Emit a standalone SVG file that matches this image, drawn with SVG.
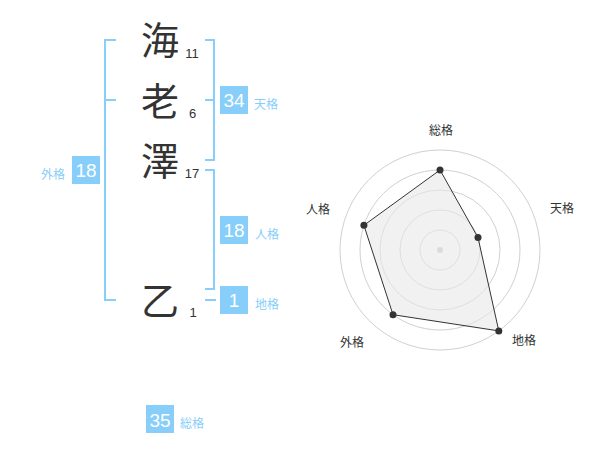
<svg xmlns="http://www.w3.org/2000/svg" width="600" height="470" viewBox="0 0 600 470">
<style>
.ch{font-family:"Noto Sans CJK JP","Noto Sans CJK SC",sans-serif;font-size:38px;fill:#333;text-anchor:middle}
.st{font-family:"Liberation Sans",Arial,sans-serif;font-size:13px;fill:#333;text-anchor:middle}
.box{fill:#87cefa}
.bn{font-family:"Liberation Sans",Arial,sans-serif;font-size:19px;fill:#fff;text-anchor:middle}
.lb{font-family:"Noto Sans CJK JP","Noto Sans CJK SC",sans-serif;font-size:12px;fill:#87cefa}
.br{fill:none;stroke:#87cefa;stroke-width:2}
.ring{fill:none;stroke:#d0d0d0;stroke-width:1}
.rl{font-family:"Noto Sans CJK JP","Noto Sans CJK SC",sans-serif;font-size:12px;fill:#333;text-anchor:middle}
.pt{fill:#333}
</style>
<rect width="600" height="470" fill="#fff"/>
<g id="connectors">
<path class="br" d="M116,40 H105 V300 H116 M105,100 H116"/>
<path class="br" d="M205,40 H214 V160 H205 M205,100 H214"/>
<path class="br" d="M205,170 H214 V289 H205"/>
<path class="br" d="M205,300 H216"/>
</g>
<g id="char1"><text class="ch" x="160" y="53.5">海</text><text class="st" x="192" y="57.7">11</text></g>
<g id="char2"><text class="ch" x="160" y="114.5">老</text><text class="st" x="192.5" y="117.7">6</text></g>
<g id="char3"><text class="ch" x="160" y="175">澤</text><text class="st" x="192" y="177.7">17</text></g>
<g id="char4"><text class="ch" x="160" y="314.5">乙</text><text class="st" x="193" y="316.7">1</text></g>
<g id="tenkaku"><rect class="box" x="220" y="86" width="28" height="28"/><text class="bn" x="234" y="107">34</text><text class="lb" x="254" y="108.5">天格</text></g>
<g id="jinkaku"><rect class="box" x="220" y="216" width="28" height="28"/><text class="bn" x="234" y="237">18</text><text class="lb" x="255" y="238.5">人格</text></g>
<g id="chikaku"><rect class="box" x="220" y="286" width="28" height="28"/><text class="bn" x="234" y="307">1</text><text class="lb" x="255" y="308.5">地格</text></g>
<g id="gaikaku"><rect class="box" x="72" y="156" width="28" height="28"/><text class="bn" x="86" y="177">18</text><text class="lb" x="41" y="179">外格</text></g>
<g id="soukaku"><rect class="box" x="146" y="405" width="28" height="28"/><text class="bn" x="160" y="426.5">35</text><text class="lb" x="180" y="427.5">総格</text></g>
<g id="radar">
<circle class="ring" cx="440" cy="250" r="20"/>
<circle class="ring" cx="440" cy="250" r="40"/>
<circle class="ring" cx="440" cy="250" r="60"/>
<circle class="ring" cx="440" cy="250" r="80"/>
<circle class="ring" cx="440" cy="250" r="100"/>
<circle cx="440" cy="250" r="3" fill="#c8c8c8"/>
<polygon points="440,170 478,237.6 498.8,330.9 393,314.7 363.9,225.3" fill="#e8e8e8" fill-opacity="0.6" stroke="#333" stroke-width="1"/>
<circle class="pt" cx="440" cy="170" r="3.5"/>
<circle class="pt" cx="478" cy="237.6" r="3.5"/>
<circle class="pt" cx="498.8" cy="330.9" r="3.5"/>
<circle class="pt" cx="393" cy="314.7" r="3.5"/>
<circle class="pt" cx="363.9" cy="225.3" r="3.5"/>
<text class="rl" x="441" y="134.5">総格</text>
<text class="rl" x="562" y="212.5">天格</text>
<text class="rl" x="524" y="345">地格</text>
<text class="rl" x="352" y="346.5">外格</text>
<text class="rl" x="318" y="213.5">人格</text>
</g>
</svg>
